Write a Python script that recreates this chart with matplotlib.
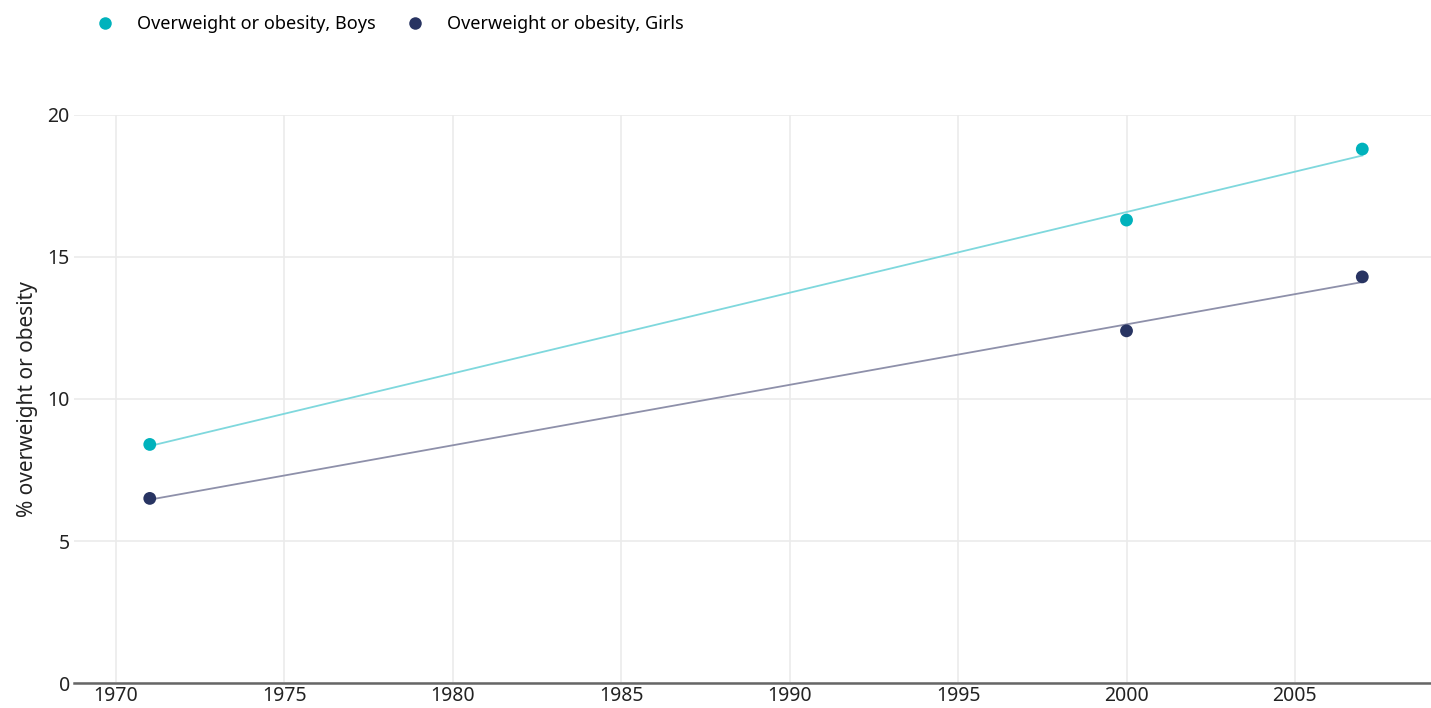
import numpy as np
import matplotlib.pyplot as plt
from matplotlib.lines import Line2D

plt.rcParams['font.family'] = ['Noto Sans', 'DejaVu Sans']

# survey years and prevalence (%)
years = [1971, 2000, 2007]
boys = [8.4, 16.3, 18.8]
girls = [6.5, 12.4, 14.3]

series_names = ['Overweight or obesity, Boys', 'Overweight or obesity, Girls']
point_colors = ['#00b2bc', '#283462']
trend_colors = ['#7fd8dd', '#8e90aa']


def main():
    fig = plt.figure(figsize=(14.31, 7.08), dpi=100)
    ax = fig.add_axes([0.0517, 0.0353, 0.9483, 0.8023])

    x = np.array(years)
    for vals, pc, tc in zip([boys, girls], point_colors, trend_colors):
        # linear trend through the survey points
        slope, icpt = np.polyfit(x, vals, 1)
        xs = np.array([x.min(), x.max()])
        ax.plot(xs, slope * xs + icpt, color=tc, lw=1.3, zorder=2)
        ax.scatter(x, vals, s=85, color=pc, edgecolors='none', zorder=3)

    ax.set_xlim(1968.75, 2009.04)
    ax.set_ylim(0, 20)
    ax.set_xticks(range(1970, 2006, 5))
    ax.set_yticks(range(0, 21, 5))
    ax.grid(True, color='#ebebeb', lw=1.2)
    ax.set_axisbelow(True)
    for side in ['top', 'right', 'left']:
        ax.spines[side].set_visible(False)
    ax.spines['bottom'].set_color('#666666')
    ax.spines['bottom'].set_linewidth(1.8)
    ax.tick_params(axis='both', length=0, labelsize=14, colors='#222222')
    ax.tick_params(axis='x', pad=2)
    ax.tick_params(axis='y', pad=3)
    ax.set_ylabel('% overweight or obesity', fontsize=15, color='#222222', labelpad=7)

    handles = [Line2D([], [], ls='none', marker='o', ms=9, color=c, mec='none') for c in point_colors]
    fig.legend(handles, series_names, loc='upper left', bbox_to_anchor=(0.056, 1.002),
               ncol=2, frameon=False, fontsize=13, handletextpad=1.25, columnspacing=1.68,
               handlelength=1.0)

    fig.savefig('out.png', dpi=100)


if __name__ == "__main__":
    main()
